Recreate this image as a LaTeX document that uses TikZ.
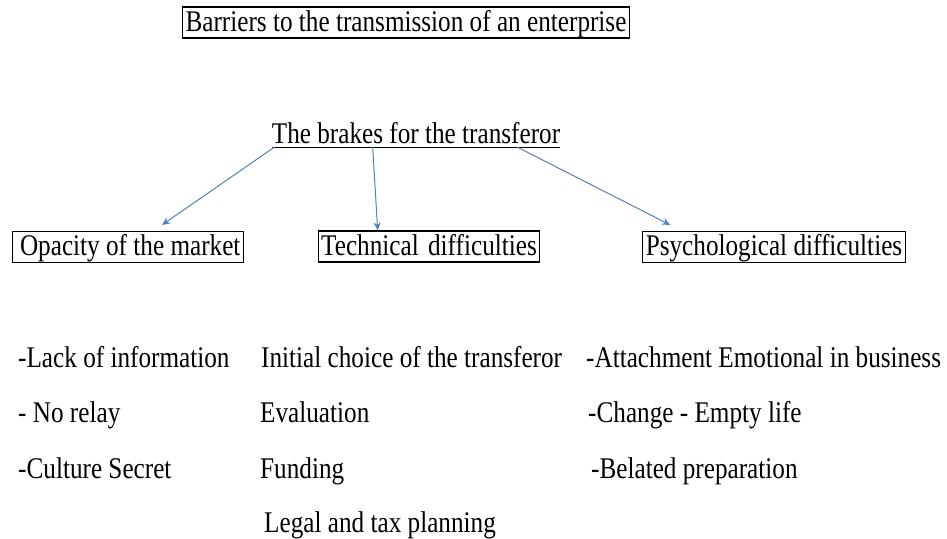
\documentclass[tikz,border=0pt]{standalone}
\usepackage{fontspec}
\setmainfont[FakeStretch=0.84]{Liberation Serif}
\usetikzlibrary{calc}
\usetikzlibrary{arrows.meta}
\definecolor{arrow-blue}{RGB}{79, 129, 189}
\begin{document}
\begin{tikzpicture}[x=1pt, y=-1pt,
    every node/.style={font=\fontsize{30}{34}\selectfont, text height=21.5pt, text depth=4.5pt},
    framed/.style={draw=black, line width=1.1pt, inner xsep=3pt, inner ysep=2.5pt},
    item/.style={anchor=base west, inner sep=0pt},
    brake/.style={draw=arrow-blue, line width=1pt, -{Stealth[length=8pt, width=7pt]}}]
\useasboundingbox (0,0) rectangle (947,538);
% title and branches
\node[framed] (title) at (406,22.5) {Barriers to the transmission of an enterprise};
\node[anchor=base, inner sep=0pt] (brakes) at (416,143) {The brakes for the transferor};
\coordinate (ul-w) at ($(brakes.base west)+(0,4)$);
\coordinate (ul-e) at ($(brakes.base east)+(0,4)$);
\draw[line width=1pt] (ul-w) -- (ul-e);
\node[framed] (opacity) at (128,247) {\hspace{0.15em}Opacity of the market};
\node[framed] (technical) at (429,246.5) {Technical\hspace{0.1em} difficulties};
\node[framed] (psycho) at (774,247) {Psychological difficulties};
\draw[brake] ($(ul-w)!0.01!(ul-e)$) -- ($(opacity.north)+(34,-6)$);
\draw[brake] ($(ul-w)!0.35!(ul-e)$) -- ($(technical.north west)+(60,0)$);
\draw[brake] ($(ul-w)!0.85!(ul-e)$) -- ($(psycho.north west)+(28,-6)$);
% lists
\node[item] (market1) at (18,367) {-Lack of information};
\node[item] (market2) at (18,422) {- No relay};
\node[item] (market3) at (18,478) {-Culture Secret};
\node[item] (tech1) at (261,367) {Initial choice of the transferor};
\node[item] (tech2) at (260,422) {Evaluation};
\node[item] (tech3) at (260,478) {Funding};
\node[item] (tech4) at (264,532) {Legal and tax planning};
\node[item] (psy1) at (586,367) {-Attachment Emotional in business};
\node[item] (psy2) at (588,422) {-Change - Empty life};
\node[item] (psy3) at (591,478) {-Belated preparation};
\end{tikzpicture}
\end{document}
